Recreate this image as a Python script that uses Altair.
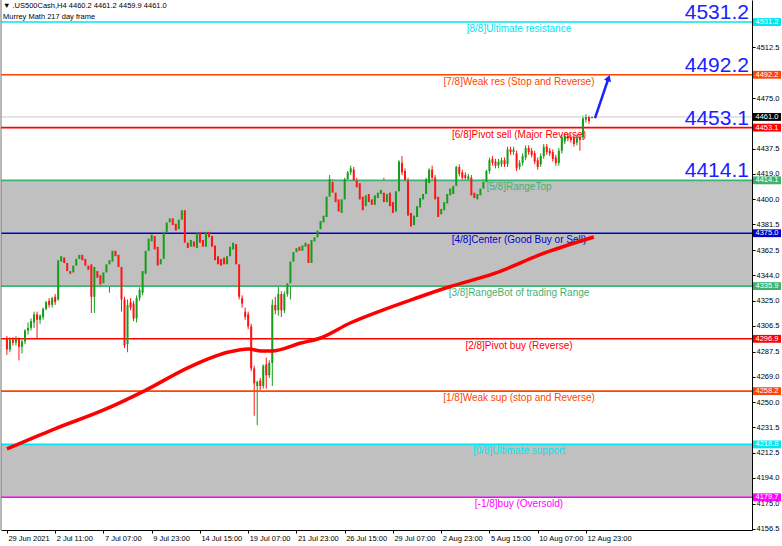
import json

import altair as alt
import pandas as pd

# ---- H4 candles of .US500Cash (bar 0 = 29 Jun 2021 03:00) ----
opens = [
    4297, 4289, 4296, 4294, 4297, 4291, 4295, 4303, 4305, 4309,
    4315, 4311, 4313, 4319, 4325, 4322, 4328, 4326, 4354, 4357,
    4353, 4347, 4346, 4351, 4356, 4359, 4356, 4351, 4352, 4328,
    4347, 4344, 4338, 4346, 4352, 4354, 4362, 4359, 4350, 4326,
    4293, 4324, 4323, 4312, 4327, 4331, 4345, 4362, 4369, 4373,
    4365, 4352, 4356, 4376, 4383, 4386, 4382, 4378, 4385, 4392,
    4368, 4365, 4369, 4364, 4376, 4370, 4365, 4376, 4373, 4366,
    4358, 4356, 4357, 4352, 4358, 4363, 4367, 4352, 4327, 4317,
    4315, 4306, 4275, 4262, 4266, 4262, 4278, 4270, 4279, 4322,
    4318, 4330, 4318, 4330, 4338, 4354, 4361, 4365, 4362, 4365,
    4367, 4353, 4369, 4372, 4378, 4383, 4387, 4402, 4413, 4405,
    4400, 4390, 4400, 4415, 4420, 4422, 4414, 4412, 4402, 4395,
    4404, 4400, 4396, 4401, 4404, 4405, 4398, 4405, 4398, 4391,
    4406, 4427, 4421, 4414, 4390, 4381, 4387, 4394, 4400, 4404,
    4412, 4422, 4416, 4402, 4389, 4392, 4397, 4403, 4404, 4410,
    4424, 4420, 4418, 4415, 4416, 4405, 4400, 4403, 4408, 4413,
    4421, 4430, 4428, 4425, 4426, 4429, 4426, 4437, 4435, 4434,
    4424, 4427, 4431, 4438, 4436, 4434, 4429, 4426, 4432, 4439,
    4436, 4435, 4431, 4427, 4436, 4443, 4447, 4446, 4446, 4442,
    4446, 4446, 4459, 4461, 4460.2,
]
highs = [
    4299, 4298, 4298, 4299, 4298, 4296, 4304, 4309, 4312, 4317,
    4317, 4315, 4320, 4325, 4327, 4328, 4330, 4358, 4360, 4358,
    4355, 4349, 4352, 4357, 4360, 4362, 4357, 4353, 4357, 4352,
    4349, 4346, 4347, 4353, 4357, 4363, 4364, 4361, 4352, 4328,
    4326, 4327, 4325, 4329, 4335, 4348, 4363, 4372, 4376, 4375,
    4367, 4358, 4377, 4384, 4387, 4388, 4384, 4386, 4394, 4394,
    4370, 4372, 4371, 4376, 4393, 4373, 4377, 4378, 4375, 4368,
    4360, 4358, 4359, 4360, 4366, 4370, 4377, 4354, 4329, 4320,
    4317, 4308, 4277, 4266, 4268, 4278, 4283, 4281, 4326, 4328,
    4336, 4332, 4332, 4340, 4356, 4362, 4365, 4367, 4367, 4370,
    4369, 4371, 4374, 4378, 4385, 4389, 4403, 4418, 4415, 4407,
    4402, 4401, 4416, 4421, 4425, 4424, 4416, 4414, 4410, 4405,
    4406, 4402, 4404, 4407, 4409, 4416, 4406, 4407, 4400, 4407,
    4429, 4432, 4423, 4416, 4392, 4389, 4396, 4402, 4405, 4416,
    4423, 4425, 4418, 4404, 4395, 4399, 4405, 4409, 4412, 4425,
    4426, 4422, 4420, 4419, 4418, 4407, 4406, 4410, 4415, 4422,
    4431, 4432, 4430, 4430, 4431, 4431, 4439, 4439, 4439, 4436,
    4429, 4434, 4440, 4440, 4438, 4436, 4431, 4434, 4441, 4441,
    4438, 4437, 4433, 4438, 4448, 4449, 4449, 4448, 4448, 4448,
    4448, 4462, 4463, 4462, 4461.2,
]
lows = [
    4285, 4287, 4292, 4292, 4281, 4286, 4293, 4300, 4303, 4305,
    4297, 4308, 4311, 4318, 4320, 4320, 4322, 4325, 4352, 4351,
    4346, 4343, 4344, 4349, 4354, 4353, 4349, 4346, 4316, 4316,
    4340, 4335, 4336, 4344, 4331, 4352, 4356, 4348, 4317, 4290,
    4287, 4318, 4310, 4309, 4325, 4329, 4343, 4360, 4367, 4361,
    4349, 4350, 4354, 4374, 4381, 4379, 4375, 4376, 4370, 4366,
    4362, 4358, 4363, 4362, 4360, 4360, 4363, 4370, 4363, 4353,
    4350, 4338, 4350, 4347, 4356, 4361, 4350, 4326, 4320, 4311,
    4304, 4273, 4240, 4233, 4259, 4260, 4260, 4268, 4262, 4315,
    4314, 4313, 4316, 4328, 4326, 4352, 4359, 4360, 4360, 4363,
    4348, 4351, 4367, 4370, 4376, 4381, 4385, 4400, 4403, 4396,
    4388, 4388, 4398, 4413, 4418, 4412, 4407, 4398, 4388, 4373,
    4396, 4394, 4394, 4399, 4402, 4387, 4396, 4393, 4386, 4389,
    4404, 4418, 4412, 4386, 4378, 4379, 4385, 4392, 4398, 4402,
    4410, 4414, 4398, 4385, 4387, 4390, 4395, 4401, 4375, 4408,
    4417, 4414, 4414, 4413, 4401, 4399, 4398, 4401, 4406, 4411,
    4419, 4425, 4423, 4423, 4424, 4424, 4424, 4433, 4433, 4421,
    4422, 4425, 4429, 4433, 4431, 4426, 4422, 4424, 4430, 4433,
    4432, 4428, 4425, 4425, 4434, 4441, 4443, 4442, 4439, 4440,
    4436, 4444, 4457, 4456, 4459.9,
]
closes = [
    4289, 4296, 4294, 4297, 4291, 4295, 4303, 4305, 4310, 4315,
    4311, 4314, 4319, 4324, 4322, 4327, 4324, 4355, 4358, 4353,
    4347, 4345, 4351, 4356, 4359, 4355, 4351, 4348, 4328, 4350,
    4342, 4337, 4346, 4352, 4355, 4362, 4358, 4350, 4326, 4292,
    4322, 4320, 4312, 4327, 4333, 4347, 4362, 4371, 4374, 4363,
    4351, 4356, 4376, 4383, 4386, 4381, 4377, 4385, 4392, 4368,
    4364, 4370, 4365, 4375, 4368, 4365, 4376, 4372, 4365, 4355,
    4352, 4351, 4352, 4358, 4365, 4368, 4352, 4328, 4323, 4313,
    4306, 4275, 4264, 4265, 4262, 4277, 4270, 4279, 4322, 4318,
    4330, 4318, 4330, 4338, 4354, 4361, 4364, 4362, 4366, 4368,
    4353, 4370, 4372, 4377, 4384, 4388, 4402, 4415, 4405, 4398,
    4391, 4400, 4415, 4420, 4423, 4414, 4409, 4400, 4392, 4403,
    4398, 4396, 4403, 4405, 4407, 4398, 4404, 4395, 4390, 4406,
    4428, 4420, 4414, 4388, 4380, 4388, 4395, 4401, 4404, 4415,
    4422, 4416, 4400, 4387, 4393, 4398, 4404, 4408, 4410, 4424,
    4419, 4416, 4416, 4417, 4403, 4401, 4404, 4408, 4413, 4421,
    4429, 4427, 4425, 4428, 4429, 4426, 4437, 4435, 4437, 4423,
    4427, 4432, 4438, 4435, 4433, 4428, 4424, 4432, 4439, 4435,
    4434, 4430, 4427, 4436, 4446, 4447, 4445, 4444, 4441, 4446,
    4444, 4460, 4461, 4458, 4461.0,
]

# ---- 217-day moving average, sampled at bar positions ----
ma_bar = [0, 15.7, 32.1, 46.1, 60.5, 73.6, 80.1, 84.4, 87.7, 97.5,
          104, 113.8, 124.6, 135.8, 146.5, 161.9, 178.3, 194.6]
ma_value = [4215.5, 4230.2, 4244.3, 4259.0, 4276.0, 4287.1, 4289.3, 4287.9,
            4287.9, 4293.8, 4297.5, 4308.6, 4318.2, 4327.1, 4335.2, 4345.5,
            4360.4, 4372.2]

# ---- Murrey Math levels ----
levels = [4531.2, 4492.2, 4453.1, 4414.1, 4375.0, 4335.9, 4296.9, 4258.2,
          4218.8, 4179.7]
level_colors = ["#00e5ee", "#ff4500", "#ff0000", "#3cb371", "#0000cd",
                "#3cb371", "#ff0000", "#ff4500", "#00e5ee", "#ff00ff"]
level_names = [
    "[8/8]Ultimate resistance",
    "[7/8]Weak res (Stop and Reverse)",
    "[6/8]Pivot sell (Major Reverse)",
    "[5/8]RangeTop",
    "[4/8]Center (Good Buy or Sell)",
    "[3/8]RangeBot of trading Range",
    "[2/8]Pivot buy (Reverse)",
    "[1/8]Weak sup (stop and Reverse)",
    "[0/8]Ultimate support",
    "[-1/8]buy (Oversold)",
]
band_low = [4335.9, 4179.7]
band_high = [4414.1, 4218.8]
target_levels = [4531.2, 4492.2, 4453.1, 4414.1]

last_price = 4461.0
header_title = "\u25bc .US500Cash,H4  4460.2 4461.2 4459.9 4461.0"
header_sub = "Murrey Math 217 day frame"

# projected move
arrow_bar = [195.0, 199.5]
arrow_value = [4460.2, 4489.8]

# ---- axes ----
time_tick_bars = [0, 16, 32, 48, 64, 80, 96, 112, 128, 144, 160, 176, 192]
time_tick_labels = ["29 Jun 2021", "2 Jul 11:00", "7 Jul 07:00", "9 Jul 23:00",
                    "14 Jul 15:00", "19 Jul 07:00", "21 Jul 23:00",
                    "26 Jul 15:00", "29 Jul 07:00", "2 Aug 23:00",
                    "5 Aug 15:00", "10 Aug 07:00", "12 Aug 23:00"]
price_ticks = [4156.5, 4175.0, 4194.0, 4212.5, 4231.5, 4250.0, 4269.0, 4287.5,
               4306.5, 4325.0, 4344.0, 4362.5, 4381.5, 4400.0, 4419.0, 4437.5,
               4475.0, 4512.5]

BULL = "#169c16"
BEAR = "#ff1414"
BLUE = "#1a22ff"
FONT = "Liberation Sans"

W, H = 751, 530

candles = pd.DataFrame({"bar": list(range(len(closes))), "open": opens,
                        "high": highs, "low": lows, "close": closes})
candles["dir"] = ["up" if c >= o else "down" for o, c in zip(opens, closes)]

levels_df = pd.DataFrame({"price": levels, "color": level_colors,
                          "name": level_names})
bands_df = pd.DataFrame({"lo": band_low, "hi": band_high})
targets_df = pd.DataFrame({"price": target_levels,
                           "label": [f"{v:.1f}" for v in target_levels]})
tags_df = pd.DataFrame({
    "price": levels + [last_price],
    "color": level_colors + ["#000000"],
    "label": [f"{v:.1f}" for v in levels + [last_price]],
})
ma_df = pd.DataFrame({"bar": ma_bar, "value": ma_value})
arrow_df = pd.DataFrame({"bar": arrow_bar, "value": arrow_value})
head_df = arrow_df.tail(1)

x_scale = alt.Scale(domain=[-0.3, 245.4], nice=False, zero=False)
y_scale = alt.Scale(domain=[4155.5, 4547.5], nice=False, zero=False)

label_expr = json.dumps(time_tick_labels) + "[round(datum.value / 16)]"
x_axis = alt.Axis(values=time_tick_bars, labelExpr=label_expr, title=None,
                  grid=False, tickSize=3, tickColor="#000", domainColor="#000",
                  tickCount=60,
                  labelAlign="left", labelOffset=1, labelPadding=1,
                  labelBaseline="top", labelFontSize=7.5, labelFont=FONT,
                  labelColor="#000", labelOverlap=False, labelFlush=False,
                  labelBound=False)
y_axis = alt.Axis(orient="right", values=price_ticks, format=".1f", title=None,
                  grid=False, tickSize=3, tickColor="#000", domainColor="#000",
                  tickCount=60,
                  labelPadding=1, labelFontSize=7.5, labelFont=FONT,
                  labelColor="#000", labelOverlap=False, labelFlush=False,
                  labelBound=False)


def px(field):
    return alt.X(field, title=None)


def py(field):
    return alt.Y(field, title=None)


candle_color = alt.Color("dir:N", legend=None,
                         scale=alt.Scale(domain=["up", "down"],
                                         range=[BULL, BEAR]))

# candle wicks carry the shared scales and both axes
wicks = alt.Chart(candles).mark_rule(strokeWidth=1).encode(
    x=alt.X("bar:Q", scale=x_scale, axis=x_axis, title=None),
    y=alt.Y("low:Q", scale=y_scale, axis=y_axis, title=None),
    y2="high:Q", color=candle_color)

bodies = alt.Chart(candles).mark_bar(size=2).encode(
    x=px("bar:Q"), y=py("open:Q"), y2="close:Q", color=candle_color)

# grey range zones
bands = alt.Chart(bands_df).mark_rect(color="#c0c0c0").encode(
    y=py("lo:Q"), y2="hi:Q")

# last price line
last_line = alt.Chart(pd.DataFrame({"price": [last_price]})).mark_rule(
    color="#c8c8c8", strokeWidth=1).encode(y=py("price:Q"))

level_lines = alt.Chart(levels_df).mark_rule(strokeWidth=1.6).encode(
    y=py("price:Q"), color=alt.Color("color:N", scale=None))

level_text = alt.Chart(levels_df).mark_text(
    align="center", baseline="top", dy=2, fontSize=10, font=FONT).encode(
    x=alt.value(518), y=py("price:Q"),
    text="name:N", color=alt.Color("color:N", scale=None))

target_text = alt.Chart(targets_df).mark_text(
    align="right", baseline="alphabetic", dy=-3, fontSize=21, font=FONT,
    color=BLUE).encode(
    x=alt.value(748), y=py("price:Q"), text="label:N")

ma_line = alt.Chart(ma_df).mark_line(
    color="#ff0000", strokeWidth=3.5, interpolate="monotone").encode(
    x=px("bar:Q"), y=py("value:Q"), order="bar:Q")

arrow = alt.Chart(arrow_df).mark_line(color=BLUE, strokeWidth=2.5).encode(
    x=px("bar:Q"), y=py("value:Q"))
arrow_head = alt.Chart(head_df).mark_point(
    shape="triangle-up", filled=True, size=55, angle=19, color=BLUE,
    opacity=1).encode(x=px("bar:Q"), y=py("value:Q"))

# price tags on the right scale
tag_boxes = alt.Chart(tags_df).transform_calculate(
    lo="datum.price - 2.9", hi="datum.price + 2.9").mark_rect().encode(
    x=alt.value(752), x2=alt.value(780),
    y=py("lo:Q"), y2="hi:Q",
    color=alt.Color("color:N", scale=None))
tag_text = alt.Chart(tags_df).mark_text(
    align="center", baseline="middle", fontSize=7.5, font=FONT,
    color="#ffffff").encode(
    x=alt.value(766), y=py("price:Q"), text="label:N")

left_border = alt.Chart(pd.DataFrame({"k": [0]})).mark_rule(
    color="#707070", strokeWidth=1).encode(
    x=alt.value(0), y=alt.value(0), y2=alt.value(H))

title_text = alt.Chart(pd.DataFrame({"t": [header_title]})).mark_text(
    align="left", baseline="middle", fontSize=7.5, font=FONT,
    color="#000").encode(x=alt.value(2), y=alt.value(6), text="t:N")
sub_text = alt.Chart(pd.DataFrame({"t": [header_sub]})).mark_text(
    align="left", baseline="middle", fontSize=7.5, font=FONT,
    color="#000").encode(x=alt.value(2), y=alt.value(16.5), text="t:N")

chart = alt.layer(
    wicks, bands, last_line, level_lines, level_text, target_text,
    bodies, ma_line, arrow, arrow_head, tag_boxes, tag_text,
    left_border, title_text, sub_text,
).properties(
    width=W, height=H,
    autosize=alt.AutoSizeParams(type="none"),
    padding={"left": 1, "top": 0, "right": 30, "bottom": 16},
    background="#ffffff",
).configure_view(stroke=None).configure_axis(labelOverlap=False)

chart.save("out.html", embed_options={"renderer": "svg", "actions": False})
